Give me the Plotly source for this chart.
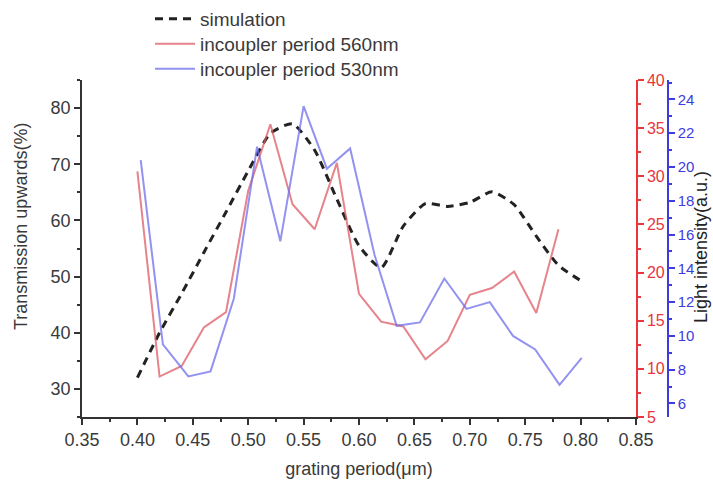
import plotly.graph_objects as go

# ---- data ----
sim_x = [0.40, 0.42, 0.44, 0.46, 0.48, 0.50, 0.52, 0.54, 0.56, 0.58, 0.60,
         0.62, 0.64, 0.66, 0.68, 0.70, 0.72, 0.74, 0.76, 0.78, 0.80]
sim_y = [32.0, 40.0, 47.0, 54.3, 61.5, 68.8, 75.5, 77.2, 72.5, 63.8, 55.5,
         51.6, 59.0, 63.0, 62.5, 63.2, 65.1, 62.8, 57.2, 52.0, 49.3]

red_x = [0.40, 0.42, 0.44, 0.46, 0.48, 0.50, 0.52, 0.54, 0.56, 0.58,
         0.60, 0.62, 0.64, 0.66, 0.68, 0.70, 0.72, 0.74, 0.76, 0.78]
red_y = [30.5, 9.2, 10.3, 14.3, 15.9, 28.5, 35.4, 27.1, 24.5, 31.4,
         17.8, 14.9, 14.4, 11.0, 12.9, 17.7, 18.4, 20.1, 15.8, 24.5]

blue_x = [0.403, 0.423, 0.446, 0.466, 0.487, 0.508, 0.529, 0.550, 0.571, 0.592,
          0.614, 0.634, 0.655, 0.677, 0.697, 0.718, 0.739, 0.759, 0.781, 0.801]
blue_y = [20.4, 9.5, 7.6, 7.9, 12.2, 21.2, 15.6, 23.6, 19.9, 21.1,
          14.8, 10.6, 10.8, 13.4, 11.6, 12.0, 10.0, 9.2, 7.1, 8.7]

x_ticks = [0.35, 0.40, 0.45, 0.50, 0.55, 0.60, 0.65, 0.70, 0.75, 0.80, 0.85]

FONT = "Liberation Sans, Arial, sans-serif"
TXT = "#3a3a3a"
RED = "#e8363c"
BLUE = "#3c3ce0"

fig = go.Figure()
fig.add_trace(go.Scatter(x=sim_x, y=sim_y, mode="lines", name="simulation",
                         line=dict(color="#222222", width=3, dash="8px,6px", shape="spline", smoothing=0.6),
                         yaxis="y", legend="legend"))
fig.add_trace(go.Scatter(x=red_x, y=red_y, mode="lines", name="incoupler period 560nm",
                         line=dict(color="rgba(222,90,100,0.75)", width=2),
                         yaxis="y2", legend="legend2"))
fig.add_trace(go.Scatter(x=blue_x, y=blue_y, mode="lines", name="incoupler period 530nm",
                         line=dict(color="rgba(110,110,235,0.75)", width=2),
                         yaxis="y3", legend="legend3"))

L, R, T, B = 82, 5, 80, 69
W, H = 713, 486
pw = W - L - R
ph = H - T - B
xdom_end = (636 - L) / pw
blue_pos = (668 - L) / pw


def leg(row_center):
    return dict(x=(150 - L) / pw, y=1 + (T - (row_center - 18)) / ph,
                xanchor="left", yanchor="top", bgcolor="rgba(0,0,0,0)",
                font=dict(size=19, color=TXT), itemwidth=40)


fig.update_layout(
    width=W, height=H,
    margin=dict(l=L, r=R, t=T, b=B, autoexpand=False),
    paper_bgcolor="white", plot_bgcolor="white",
    font=dict(family=FONT, color=TXT, size=18),
    showlegend=True,
    legend=leg(18), legend2=leg(43), legend3=leg(68),
    xaxis=dict(domain=[0, xdom_end], range=[0.35, 0.85], tickvals=x_ticks,
               tickformat=".2f", showline=True, linecolor="#333333", linewidth=1.5,
               ticks="outside", ticklen=6, tickcolor="#333333", tickwidth=1.5,
               minor=dict(dtick=0.025, ticks="outside", ticklen=3, tickcolor="#333333"),
               showgrid=False, zeroline=False, tickfont=dict(size=18, color=TXT),
               title=dict(text="grating period(μm)", font=dict(size=18, color=TXT), standoff=13)),
    yaxis=dict(range=[25, 85], tick0=30, dtick=10, showline=True, linecolor="#333333",
               linewidth=1.5, ticks="outside", ticklen=6, tickcolor="#333333", tickwidth=1.5,
               minor=dict(dtick=5, ticks="outside", ticklen=3, tickcolor="#333333"),
               showgrid=False, zeroline=False, tickfont=dict(size=18, color=TXT)),
    yaxis2=dict(range=[5, 40], tick0=5, dtick=5, overlaying="y", side="right", anchor="x",
                showline=True, linecolor=RED, linewidth=1.5, ticks="outside", ticklen=6,
                tickcolor=RED, tickwidth=1.5,
                minor=dict(dtick=2.5, ticks="outside", ticklen=3, tickcolor=RED),
                showgrid=False, zeroline=False, tickfont=dict(size=16, color=RED)),
    yaxis3=dict(range=[5.2, 25.15], tick0=0, dtick=2, overlaying="y", side="right",
                anchor="free", position=blue_pos,
                showline=True, linecolor=BLUE, linewidth=1.5, ticks="outside", ticklen=6,
                tickcolor=BLUE, tickwidth=1.5,
                minor=dict(dtick=1, ticks="outside", ticklen=3, tickcolor=BLUE),
                showgrid=False, zeroline=False, tickfont=dict(size=15, color=BLUE)),
    annotations=[
        dict(text="Transmission upwards(%)", xref="paper", yref="paper",
             x=(21 - L) / pw, y=(H - B - 227) / ph, textangle=-90, showarrow=False,
             xanchor="center", yanchor="middle", font=dict(size=18, color=TXT)),
        dict(text="Light intensity(a.u.)", xref="paper", yref="paper",
             x=(701 - L) / pw, y=(H - B - 247) / ph, textangle=-90, showarrow=False,
             xanchor="center", yanchor="middle", font=dict(size=18, color="#222222")),
    ],
)

fig.write_html("out.html")
